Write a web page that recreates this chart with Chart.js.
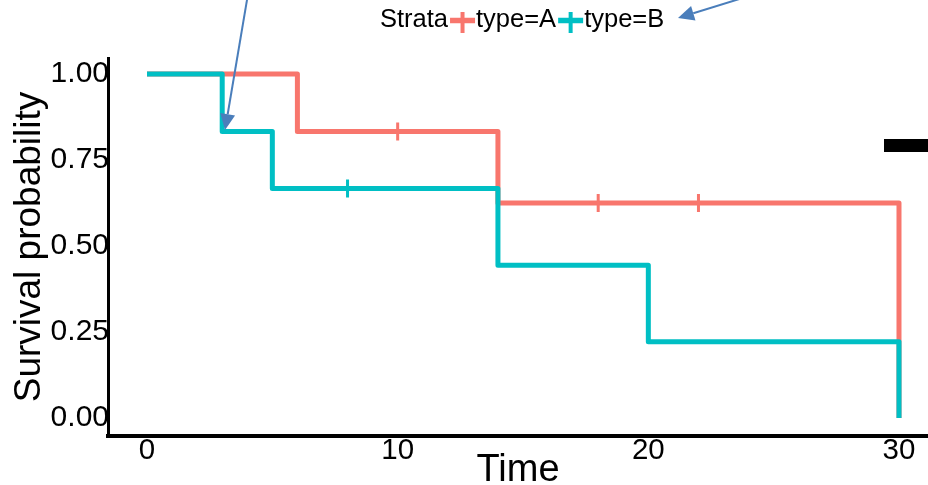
<!DOCTYPE html>
<html>
<head>
<meta charset="utf-8">
<script src="https://cdn.jsdelivr.net/npm/chart.js@4/dist/chart.umd.min.js"></script>
<style>
html,body{margin:0;padding:0;background:#fff;}
#wrap{width:928px;height:485px;position:relative;}
</style>
</head>
<body>
<div id="wrap"><canvas id="c"></canvas></div>
<script>
// ---- data ----
const legendTitle = 'Strata';
const strataLabels = ['type=A', 'type=B'];
const timeA = [0, 6, 14, 30];
const survA = [1, 0.833, 0.625, 0];
const timeB = [0, 3, 5, 14, 20, 30];
const survB = [1, 0.833, 0.667, 0.444, 0.222, 0];
const censorTimeA = [10, 18, 22];
const censorSurvA = [0.833, 0.625, 0.625];
const censorTimeB = [8];
const censorSurvB = [0.667];
const xTickValues = [0, 10, 20, 30];
const xTickLabels = ['0', '10', '20', '30'];
const yTickValues = [0, 0.25, 0.5, 0.75, 1];
const yTickLabels = ['0.00', '0.25', '0.50', '0.75', '1.00'];
const xTitle = 'Time';
const yTitle = 'Survival probability';

// ---- styles ----
const RED = '#F8766D';
const TEAL = '#00BFC4';
const FONT = "'Liberation Sans', Arial, Helvetica, sans-serif";
const ARROW = '#4a7ebb';

const xy = (xs, ys) => xs.map((x, i) => ({x: x, y: ys[i]}));

const decorPlugin = {
  id: 'decor',
  afterDraw(chart) {
    const ctx = chart.ctx;
    ctx.save();
    // legend
    ctx.font = '25.5px ' + FONT;
    ctx.fillStyle = '#000';
    ctx.textBaseline = 'alphabetic';
    ctx.textAlign = 'left';
    let x = 380;
    const base = 26.7;
    ctx.fillText(legendTitle, x, base);
    x += ctx.measureText(legendTitle).width + 2;
    const cols = [RED, TEAL];
    strataLabels.forEach((lab, i) => {
      ctx.strokeStyle = cols[i];
      ctx.lineCap = 'butt';
      ctx.lineWidth = 5.5;
      ctx.beginPath(); ctx.moveTo(x, 20.5); ctx.lineTo(x + 25, 20.5); ctx.stroke();
      ctx.lineWidth = 4;
      ctx.beginPath(); ctx.moveTo(x + 12.5, 12); ctx.lineTo(x + 12.5, 33); ctx.stroke();
      x += 26;
      ctx.fillStyle = '#000';
      ctx.fillText(lab, x, base);
      x += ctx.measureText(lab).width + 2;
    });
    // black bar
    ctx.fillStyle = '#000';
    ctx.fillRect(884, 139, 44, 13);
    // arrows
    const arrow = (x1, y1, x2, y2) => {
      const ang = Math.atan2(y2 - y1, x2 - x1);
      const hl = 16, hw = 7.5;
      const bx = x2 - hl * Math.cos(ang), by = y2 - hl * Math.sin(ang);
      ctx.strokeStyle = ARROW;
      ctx.lineWidth = 2;
      ctx.beginPath(); ctx.moveTo(x1, y1); ctx.lineTo(bx, by); ctx.stroke();
      ctx.fillStyle = ARROW;
      ctx.beginPath();
      ctx.moveTo(x2, y2);
      ctx.lineTo(bx + hw * Math.sin(ang), by - hw * Math.cos(ang));
      ctx.lineTo(bx - hw * Math.sin(ang), by + hw * Math.cos(ang));
      ctx.closePath(); ctx.fill();
    };
    arrow(248, -6, 225, 130);
    arrow(762, -8, 678, 18);
    ctx.restore();
  }
};

new Chart(document.getElementById('c'), {
  type: 'line',
  data: {
    datasets: [
      {label: strataLabels[1], data: xy(timeB, survB), borderColor: TEAL, backgroundColor: TEAL,
       borderWidth: 5, stepped: 'before', pointRadius: 0, fill: false, order: 1,
       borderCapStyle: 'butt', borderJoinStyle: 'round'},
      {label: strataLabels[0], data: xy(timeA, survA), borderColor: RED, backgroundColor: RED,
       borderWidth: 5, stepped: 'before', pointRadius: 0, fill: false, order: 2,
       borderCapStyle: 'butt', borderJoinStyle: 'round'},
      {label: strataLabels[0] + ' censor', data: xy(censorTimeA, censorSurvA), showLine: false,
       pointStyle: 'cross', pointRadius: 9, pointBorderWidth: 3, borderColor: RED, backgroundColor: RED, order: 0},
      {label: strataLabels[1] + ' censor', data: xy(censorTimeB, censorSurvB), showLine: false,
       pointStyle: 'cross', pointRadius: 9, pointBorderWidth: 3, borderColor: TEAL, backgroundColor: TEAL, order: 0}
    ]
  },
  options: {
    responsive: true,
    maintainAspectRatio: false,
    animation: false,
    events: [],
    layout: {autoPadding: false, padding: {top: 58, left: 0, right: 0, bottom: 0}},
    plugins: {legend: {display: false}, tooltip: {enabled: false}, title: {display: false}},
    scales: {
      x: {
        type: 'linear', min: -1.556, max: 31.157,
        afterBuildTicks: s => { s.ticks = xTickValues.map(v => ({value: v})); },
        ticks: {callback: (v, i) => xTickLabels[i], color: '#000', font: {family: FONT, size: 29.5},
                padding: -3, maxRotation: 0, autoSkip: false},
        grid: {display: false, drawTicks: false},
        border: {display: true, color: '#000', width: 4},
        title: {display: true, text: xTitle, color: '#000', font: {family: FONT, size: 38},
                padding: {top: 0, bottom: -8}},
        afterFit: s => { s.height = 49; s.paddingLeft = 0; s.paddingRight = 0; }
      },
      y: {
        type: 'linear', min: -0.0523, max: 1.0465,
        afterBuildTicks: s => { s.ticks = yTickValues.map(v => ({value: v})); },
        ticks: {callback: (v, i) => yTickLabels[i], color: '#000', font: {family: FONT, size: 30},
                padding: -1, autoSkip: false},
        grid: {display: false, drawTicks: false},
        border: {display: true, color: '#000', width: 3},
        title: {display: true, text: yTitle, color: '#000', font: {family: FONT, size: 37},
                padding: {top: 8, bottom: 0}},
        afterFit: s => { s.width = 108; s.paddingTop = 0; s.paddingBottom = 0; }
      }
    }
  },
  plugins: [decorPlugin]
});
</script>
</body>
</html>
